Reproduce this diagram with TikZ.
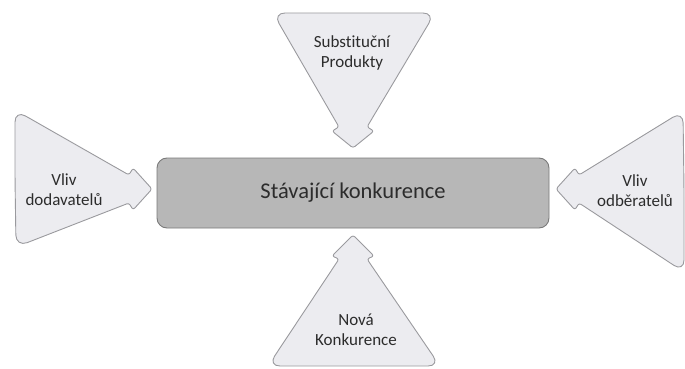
\documentclass[tikz,border=0pt]{standalone}
\usepackage{fontspec}
\setmainfont[Ligatures={NoCommon}]{Carlito}
\definecolor{arrowfill}{HTML}{ECECF0}
\definecolor{arrowline}{HTML}{9A9A9E}
\definecolor{boxfill}{HTML}{B7B7B7}
\definecolor{boxline}{HTML}{7A7A7A}
\definecolor{ink}{HTML}{2C2C2C}
\tikzset{
  force/.style={fill=arrowfill, draw=arrowline, line width=0.9pt, line join=round},
  centrebox/.style={fill=boxfill, draw=boxline, line width=0.9pt, rounded corners=10pt},
  label/.style={text=ink, font=\fontsize{17}{20}\selectfont, align=center, inner sep=0pt},
  mainlabel/.style={text=ink, font=\fontsize{22.5}{26}\selectfont, inner sep=0pt},
  big/.style={rounded corners=12pt},
  small/.style={rounded corners=2.5pt},
}
\begin{document}
\begin{tikzpicture}[x=1pt, y=-1pt]
  \useasboundingbox (0,0) rectangle (685,369);

  % central box
  \path[centrebox] (157,158) rectangle (549,228);
  \node[mainlabel] (current) at (353,193) {Stávající konkurence};

  % the rounding switches at mid-side points, where the outline runs straight on

  % top: substitutes, pointing down
  \path[force] (354,13) [big] -- (435,13) -- (401,70)
     [small] -- (367,127) -- (374,131) -- (353,148) -- (332,131) -- (339,127) -- (306,70)
     [big] -- (273,13) -- cycle;
  \node[label] (subst) at (352,53) {Substituční\\Produkty};

  % left: suppliers, pointing right
  \path[force] (15,178) [big] -- (15,110) -- (72,142.5)
     [small] -- (129,175) -- (133,168) -- (152,189) -- (133,210) -- (129,203) -- (72.5,225)
     [big] -- (16,247) -- cycle;
  \node[label] (suppliers) at (64,190) {Vliv\\dodavatelů};

  % right: buyers, pointing left
  \path[force] (684,190) [big] -- (683,111) -- (631,143)
     [small] -- (579,175) -- (575,168) -- (556,189) -- (575,210) -- (579,203) -- (631.5,237.5)
     [big] -- (684,272) -- cycle;
  \node[label] (buyers) at (635,191) {Vliv\\odběratelů};

  % bottom: new entrants, pointing up
  \path[force] (354,366) [big] -- (268,366) -- (303.5,312.5)
     [small] -- (339,259) -- (332,256) -- (353,235) -- (374,256) -- (367,259) -- (403.5,312.5)
     [big] -- (440,366) -- cycle;
  \node[label] (entrants) at (356,330) {Nová\\Konkurence};
\end{tikzpicture}
\end{document}
